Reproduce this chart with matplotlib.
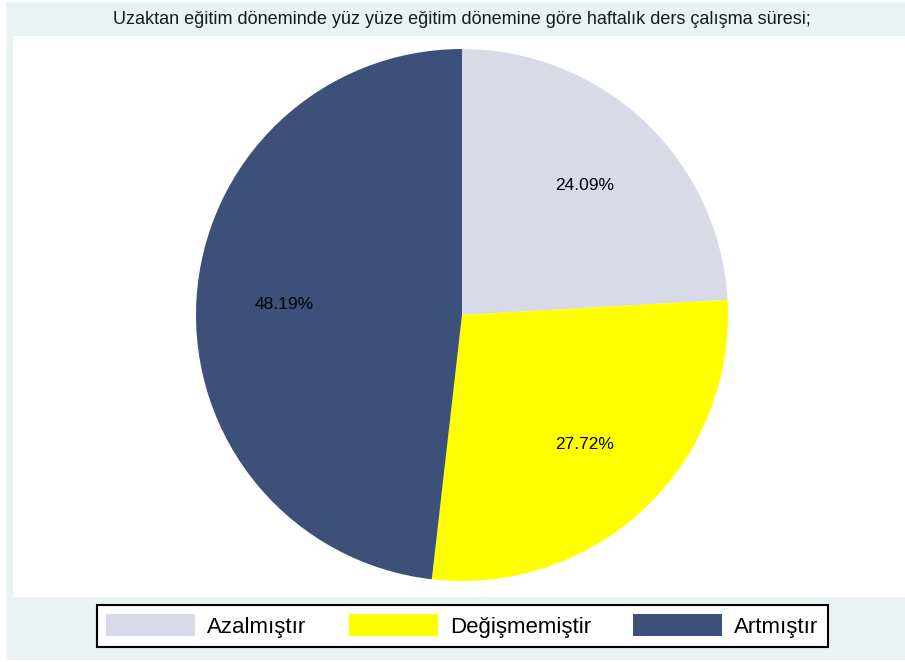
import matplotlib.pyplot as plt
from matplotlib.patches import Patch, Rectangle

# data
labels = ['Azalmıştır', 'Değişmemiştir', 'Artmıştır']
values = [24.09, 27.72, 48.19]
colors = ['#D8DBE7', '#FFFF00', '#3C5079']
title = 'Uzaktan eğitim döneminde yüz yüze eğitim dönemine göre haftalık ders çalışma süresi;'

plt.rcParams['font.family'] = ['Liberation Sans', 'DejaVu Sans']

W, H = 905, 662
fig = plt.figure(figsize=(W / 100, H / 100), dpi=100)
fig.patch.set_facecolor('white')


def px_rect(x0, y0, x1, y1, color):
    # rectangle in pixel coords (top-left origin)
    fig.patches.append(Rectangle((x0 / W, 1 - y1 / H), (x1 - x0) / W, (y1 - y0) / H,
                                 transform=fig.transFigure, facecolor=color,
                                 edgecolor='none', zorder=-10))


px_rect(6, 2, 905, 660, '#EAF2F3')   # outer graph region
px_rect(13, 36, 905, 597, 'white')   # plot region

# pie
cx, cy, r = 462, 315, 266
ax = fig.add_axes([(cx - r) / W, 1 - (cy + r) / H, 2 * r / W, 2 * r / H])
wedges, texts, autotexts = ax.pie(values, colors=colors, startangle=90, counterclock=False,
                                  autopct='%.2f%%', pctdistance=0.67,
                                  wedgeprops=dict(linewidth=0),
                                  textprops=dict(fontsize=12.5, color='black'))
ax.set_xlim(-1, 1)
ax.set_ylim(-1, 1)
ax.set_aspect('equal')
ax.axis('off')

fig.text(462 / W, 1 - 19 / H, title, ha='center', va='center', fontsize=13, color='#1a1a1a')

handles = [Patch(facecolor=c, edgecolor='none') for c in colors]
leg = fig.legend(handles, labels, ncol=3, loc='center', bbox_to_anchor=(462.5 / W, 1 - 626 / H),
                 fontsize=16, frameon=True, fancybox=False, edgecolor='black',
                 facecolor='white', framealpha=1,
                 handlelength=4.0, handleheight=1.15, handletextpad=0.55, columnspacing=1.9,
                 borderpad=0.4, borderaxespad=0)
leg.get_frame().set_linewidth(1.5)

fig.savefig('out.png', dpi=100, facecolor=fig.get_facecolor())
